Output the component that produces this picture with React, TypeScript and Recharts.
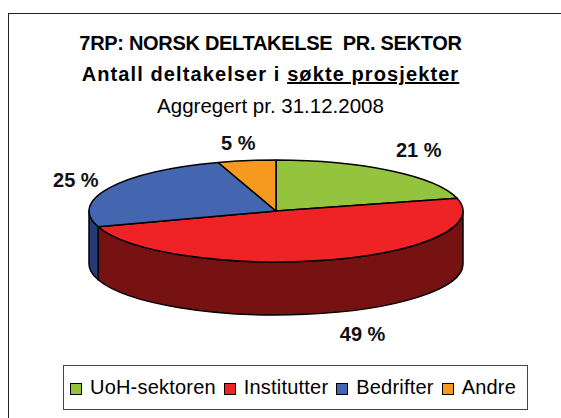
import { Cell, Legend, Pie, PieChart } from "recharts"

const categories = ["UoH-sektoren", "Institutter", "Bedrifter", "Andre"]
const shares = [21, 49, 25, 5]

const topColors = ["#94c43d", "#ef2326", "#4466b0", "#f6991f"]
const sideColors = ["#6b8e2c", "#771213", "#273a78", "#b06d14"]

// nudges for the value labels, excel had them placed by hand
const labelDx = [3, 23, 3, -2]
const labelDy = [-4, 1, 2, 3]

const data = categories.map((name, i) => ({ name, value: shares[i] }))

const FONT = '"Liberation Sans", Arial, sans-serif'
const CX = 276
const CY = 211
const RX = 187
const RY = 51
const DEPTH = 53
const RAD = Math.PI / 180

const px = (a: number) => CX + RX * Math.cos(a * RAD)
const py = (a: number) => CY - RY * Math.sin(a * RAD)

function Slice(props: any) {
  const { startAngle, endAngle, fill, name } = props
  const large = Math.abs(startAngle - endAngle) > 180 ? 1 : 0
  const top = `M${CX},${CY} L${px(startAngle)},${py(startAngle)} A${RX},${RY} 0 ${large} 1 ${px(endAngle)},${py(endAngle)} Z`

  // only the front half of the rim is visible
  const a0 = Math.min(startAngle, 0)
  const a1 = Math.max(endAngle, -180)
  const side =
    a0 > a1
      ? `M${px(a0)},${py(a0)} A${RX},${RY} 0 0 1 ${px(a1)},${py(a1)} L${px(a1)},${py(a1) + DEPTH} A${RX},${RY} 0 0 0 ${px(a0)},${py(a0) + DEPTH} Z`
      : null

  return (
    <g stroke="#000" strokeWidth={1.5} strokeLinejoin="round">
      {side && <path d={side} fill={sideColors[categories.indexOf(name)]} />}
      <path d={top} fill={fill} />
    </g>
  )
}

function renderLabel(props: any) {
  const { midAngle, value, index } = props
  const front = midAngle < 0 && midAngle > -180
  const x = CX + 228 * Math.cos(midAngle * RAD) + labelDx[index]
  const y = CY - 72 * Math.sin(midAngle * RAD) + (front ? DEPTH : 0) + labelDy[index]
  return (
    <text
      x={x}
      y={y}
      textAnchor="middle"
      dominantBaseline="central"
      fontFamily={FONT}
      fontWeight="bold"
      fontSize={20}
      fill="#111"
    >
      {`${value} %`}
    </text>
  )
}

function LegendBox() {
  return (
    <div
      style={{
        display: "flex",
        alignItems: "center",
        justifyContent: "flex-start",
        paddingLeft: 6,
        height: "100%",
        fontFamily: FONT,
        fontSize: 20,
        letterSpacing: 0.2,
        color: "#000",
      }}
    >
      {categories.map((name, i) => (
        <span key={name} style={{ display: "flex", alignItems: "center", marginLeft: i ? 8 : 0 }}>
          <span
            style={{
              width: 10,
              height: 10,
              marginRight: 8,
              marginTop: 2,
              background: topColors[i],
              border: "1.5px solid #000",
            }}
          />
          {name}
        </span>
      ))}
    </div>
  )
}

export default function App() {
  return (
    <div style={{ position: "absolute", left: 0, top: 0, width: 561, height: 418, overflow: "hidden", background: "#fff" }}>
      <div
        style={{
          position: "absolute",
          left: 8,
          top: 13,
          width: 600,
          height: 500,
          border: "1.5px solid #222",
        }}
      />
      <div style={{ position: "absolute", left: 0, top: 28, width: 541, textAlign: "center", fontFamily: FONT, color: "#000" }}>
        <div style={{ fontWeight: "bold", fontSize: 20, lineHeight: "31px", letterSpacing: -0.3, whiteSpace: "nowrap" }}>
          7RP: NORSK DELTAKELSE&nbsp; PR. SEKTOR
        </div>
        <div style={{ fontWeight: "bold", fontSize: 20, lineHeight: "31px", letterSpacing: 1.1, whiteSpace: "nowrap" }}>
          Antall deltakelser i <u>søkte prosjekter</u>
        </div>
        <div style={{ fontSize: 20.5, lineHeight: "31px", whiteSpace: "nowrap" }}>Aggregert pr. 31.12.2008</div>
      </div>
      <PieChart width={561} height={418} margin={{ top: 0, right: 0, bottom: 0, left: 0 }} style={{ position: "absolute", left: 0, top: 0 }}>
        <Pie
          data={data}
          dataKey="value"
          nameKey="name"
          cx={CX}
          cy={CY}
          outerRadius={RX}
          startAngle={90}
          endAngle={-270}
          shape={Slice}
          label={renderLabel}
          labelLine={false}
          stroke="#000"
          isAnimationActive={false}
        >
          {data.map((entry, index) => (
            <Cell key={`cell-${index}`} fill={topColors[index]} />
          ))}
        </Pie>
        <Legend
          content={<LegendBox />}
          wrapperStyle={{
            position: "absolute",
            left: 63,
            top: 365,
            bottom: "auto",
            width: 465,
            height: 45,
            border: "1px solid #444",
            boxSizing: "border-box",
          }}
        />
      </PieChart>
    </div>
  )
}
